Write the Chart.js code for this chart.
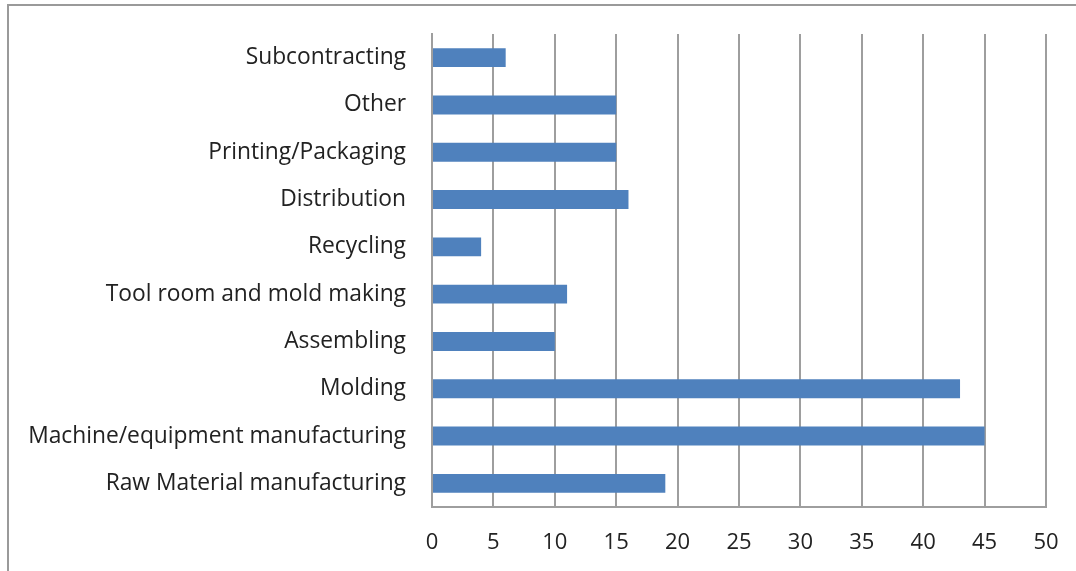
<!DOCTYPE html>
<html>
<head>
<meta charset="utf-8">
<script src="https://cdn.jsdelivr.net/npm/chart.js@4"></script>
<style>
  html, body { margin: 0; padding: 0; background: #ffffff; }
  #wrap { position: absolute; left: 0; top: 0; width: 1076px; height: 571px; }
  #frame { position: absolute; left: 7px; top: 4px; width: 1080px; height: 580px;
           border-left: 2px solid #9a9a9a; border-top: 2px solid #9a9a9a; }
  canvas { position: absolute; left: 0; top: 0; }
</style>
</head>
<body>
<div id="wrap">
  <div id="frame"></div>
  <canvas id="c" width="1076" height="571"></canvas>
</div>
<script>
const categories = [
  "Subcontracting",
  "Other",
  "Printing/Packaging",
  "Distribution",
  "Recycling",
  "Tool room and mold making",
  "Assembling",
  "Molding",
  "Machine/equipment manufacturing",
  "Raw Material manufacturing"
];
const values = [6, 15, 15, 16, 4, 11, 10, 43, 45, 19];
const xMin = 0;
const xMax = 50;
const xStep = 5;

const fontFamily = "'Open Sans', Lato, sans-serif";
const textColor = "#222222";
const gridColor = "#9e9e9e";

new Chart(document.getElementById("c"), {
  type: "bar",
  data: {
    labels: categories,
    datasets: [{
      data: values,
      backgroundColor: "#4f81bd",
      borderWidth: 0,
      barPercentage: 0.4,
      categoryPercentage: 1.0
    }]
  },
  options: {
    indexAxis: "y",
    responsive: false,
    animation: false,
    maintainAspectRatio: false,
    layout: { padding: { top: 34, right: 30, bottom: 0, left: 0 } },
    plugins: { legend: { display: false }, tooltip: { enabled: false } },
    scales: {
      x: {
        min: xMin, max: xMax,
        ticks: { stepSize: xStep, color: textColor, font: { family: fontFamily, size: 22 }, padding: 23, maxRotation: 0 },
        grid: { color: gridColor, lineWidth: 2, drawTicks: false },
        border: { display: true, color: gridColor, width: 2 },
        afterFit: (s) => { s.height = 64; s.paddingLeft = 0; s.paddingRight = 0; }
      },
      y: {
        ticks: { color: textColor, font: { family: fontFamily, size: 22.8 }, padding: 26 },
        grid: { display: false, drawTicks: false },
        border: { display: true, color: gridColor, width: 2 },
        afterFit: (s) => { s.width = 432; s.paddingTop = 0; s.paddingBottom = 0; }
      }
    }
  }
});
</script>
</body>
</html>
